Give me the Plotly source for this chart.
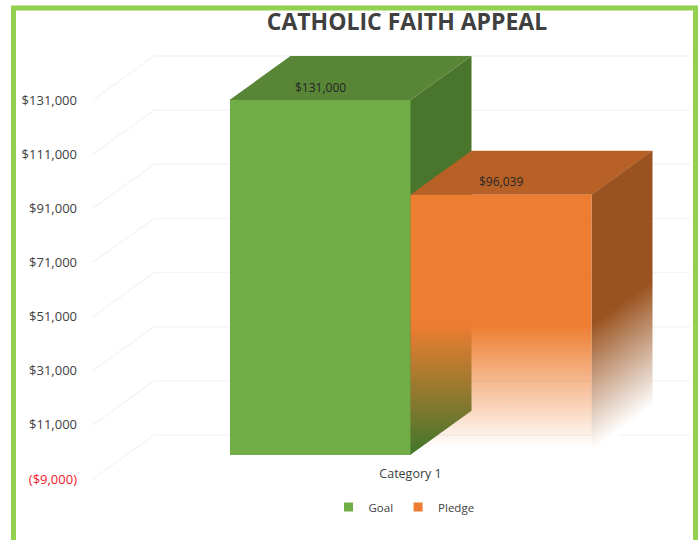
import plotly.graph_objects as go

# Data
categories = ["Category 1"]
series_names = ["Goal", "Pledge"]
goal_values = [131000]
pledge_values = [96039]
tick_values = [-9000, 11000, 31000, 51000, 71000, 91000, 111000, 131000]
tick_labels = ['<span style="color:#f0202a">($9,000)</span>', "$11,000", "$31,000", "$51,000",
               "$71,000", "$91,000", "$111,000", "$131,000"]
title_text = "CATHOLIC FAITH APPEAL"

# Layout constants (pixels of the 698x540 page)
W, H = 698, 540
PL, PR, PT, PB = 78, 690, 40, 490
PX_PER_UNIT_Y = 379 / 140000
X0_PX, BAR_PX = 229.5, 181
DEPTH_PX_X, DEPTH_PX_Y = 61, 44
DX = DEPTH_PX_X / BAR_PX
DY = DEPTH_PX_Y / PX_PER_UNIT_Y
FADE_FROM = 47900

x_range = [(PL - X0_PX) / BAR_PX, (PR - X0_PX) / BAR_PX]
y_range = [-9000 - (PB - 479) / PX_PER_UNIT_Y, 131000 + (100 - PT) / PX_PER_UNIT_Y]

GREEN, GREEN_TOP, GREEN_SIDE = "#70AD47", "#588536", "#49762C"
ORANGE, ORANGE_TOP, ORANGE_SIDE = "#ED7D31", "#B86127", "#9A5320"
TEXT = "#404040"
FONT = "Open Sans"


def paper_x(px):
    return (px - PL) / (PR - PL)


def paper_y(py):
    return (PB - py) / (PB - PT)


def box_faces(left, value):
    right = left + 1
    top = dict(x=[left, right, right + DX, left + DX, left],
               y=[value, value, value + DY, value + DY, value])
    side = dict(x=[right, right + DX, right + DX, right, right],
                y=[0, DY, value + DY, value, 0])
    return top, side


def poly(face, color, **kw):
    return go.Scatter(x=face["x"], y=face["y"], mode="lines", fill="toself", fillcolor=color,
                      line=dict(width=0), hoverinfo="skip", showlegend=False, **kw)


fig = go.Figure()

# Goal: front face
fig.add_trace(go.Bar(x=[0.5], y=goal_values, width=[1], name=series_names[0],
                     marker=dict(color=GREEN, line=dict(width=0)), showlegend=False))

# Legend entries
for name, color in zip(series_names, [GREEN, ORANGE]):
    fig.add_trace(go.Scatter(x=[None], y=[None], mode="markers", name=name,
                             marker=dict(symbol="square", size=9, color=color)))

g_top, g_side = box_faces(0, goal_values[0])
fig.add_trace(poly(g_side, GREEN_SIDE))
fig.add_trace(poly(g_top, GREEN_TOP))

p_top, p_side = box_faces(1, pledge_values[0])

# Pledge side face: strips, each with a fade that rises with the depth
N = 40
for i in range(N):
    a, b = i / N, min((i + 1.5) / N, 1)
    xs = [2 + a * DX, 2 + b * DX, 2 + b * DX, 2 + a * DX, 2 + a * DX]
    ys = [a * DY, b * DY, pledge_values[0] + b * DY, pledge_values[0] + a * DY, a * DY]
    rise = (a + b) / 2 * DY
    fig.add_trace(go.Scatter(
        x=xs, y=ys, mode="lines", fill="toself", line=dict(width=0),
        hoverinfo="skip", showlegend=False,
        fillgradient=dict(type="vertical", start=FADE_FROM + rise, stop=rise + 1500,
                          colorscale=[[0, ORANGE_SIDE], [1, "rgb(255,255,255)"]])))

fig.add_trace(poly(p_top, ORANGE_TOP))

# Pledge front face with the fade to transparent
fig.add_trace(go.Scatter(
    x=[1, 2, 2, 1, 1], y=[0, 0, pledge_values[0], pledge_values[0], 0],
    mode="lines", fill="toself", line=dict(width=0), hoverinfo="skip", showlegend=False,
    fillgradient=dict(type="vertical", start=FADE_FROM, stop=2500,
                      colorscale=[[0, "rgba(237,125,49,1)"], [1, "rgba(237,125,49,0)"]])))

# Wall gridlines, below all traces
shapes = []
wall_l = (93 - X0_PX) / BAR_PX
for v in tick_values:
    shapes.append(dict(type="path", xref="x", yref="y", layer="below",
                       path=f"M {wall_l} {v} L {wall_l + DX} {v + DY} L {x_range[1]} {v + DY}",
                       line=dict(color="#F5F5F5", width=1.5)))
# Green frame (bottom side runs off the page)
shapes.append(dict(type="rect", xref="paper", yref="paper", layer="above",
                   x0=paper_x(13.5), x1=paper_x(695.5), y0=paper_y(570), y1=paper_y(8),
                   line=dict(color="#92D050", width=5)))
fig.update_layout(shapes=shapes)

# Value labels
for x, val in [(0.5, goal_values[0]), (1.5, pledge_values[0])]:
    fig.add_annotation(x=x, y=val, yshift=13, text=f"${val:,}", showarrow=False,
                       font=dict(family=FONT, size=12, color="#262626"))

fig.update_layout(
    width=W, height=H, autosize=False,
    margin=dict(l=PL, r=W - PR, t=PT, b=H - PB, pad=0),
    paper_bgcolor="white", plot_bgcolor="white",
    bargap=0, barmode="overlay", hovermode=False,
    font=dict(family=FONT, color=TEXT),
    title=dict(text=f"<b>{title_text}</b>", x=paper_x(407), xref="paper", xanchor="center",
               y=1 - 22 / H, yref="container", yanchor="middle",
               font=dict(family=FONT, size=23, color=TEXT)),
    xaxis=dict(range=x_range, showgrid=False, zeroline=False, showline=False, ticks="",
               tickmode="array", tickvals=[1], ticktext=categories,
               anchor="free", position=paper_y(464),
               tickfont=dict(family=FONT, size=12.5, color=TEXT)),
    yaxis=dict(range=y_range, showgrid=False, zeroline=False, showline=False, ticks="",
               tickmode="array", tickvals=tick_values, ticktext=tick_labels,
               tickfont=dict(family=FONT, size=13, color=TEXT)),
    legend=dict(orientation="h", x=paper_x(404), xanchor="center", y=paper_y(507), yanchor="middle",
                font=dict(family=FONT, size=11.5, color=TEXT), bgcolor="rgba(0,0,0,0)",
                itemwidth=30, traceorder="normal"),
)

fig.write_html("out.html", config={"displayModeBar": False},
               post_script="document.body.style.margin='0';")
